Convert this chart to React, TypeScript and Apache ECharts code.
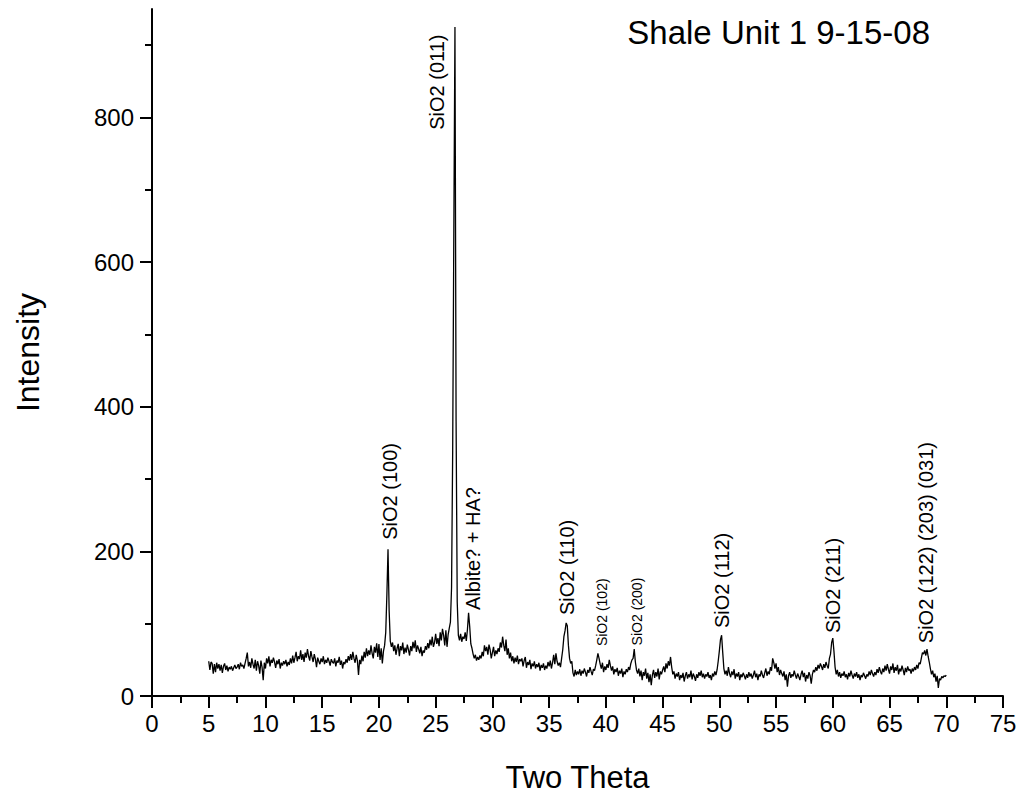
import React, { useEffect, useRef } from "react";
import * as echarts from "echarts";

// Powder diffraction scan, 5.0° to 70.0° two-theta, 0.1° step.
const scanStart = 5.0;
const scanStep = 0.1;

const counts05 = [
  48, 36, 47, 45, 31, 44, 33, 46, 38, 44,
  35, 43, 32, 41, 45, 36, 42, 34, 40, 37,
  41, 35, 39, 43, 38, 40, 44, 37, 46, 41,
  43, 38, 45, 52, 60, 41, 47, 39, 52, 44,
  38, 50, 35, 48, 42, 31, 49, 40, 22, 46,
];
const counts10 = [
  38, 52, 45, 55, 41, 50, 46, 53, 47, 39,
  49, 44, 51, 38, 46, 42, 48, 44, 50, 41,
  47, 43, 52, 45, 56, 46, 53, 61, 48, 55,
  51, 63, 50, 58, 47, 60, 53, 65, 55, 49,
  62, 54, 47, 58, 51, 40, 53, 48, 44, 52,
];
const counts15 = [
  47, 55, 44, 50, 46, 53, 48, 42, 51, 47,
  45, 52, 41, 49, 46, 54, 43, 49, 38, 47,
  44, 51, 46, 55, 49, 58, 50, 61, 52, 46,
  57, 49, 29, 50, 44, 56, 48, 61, 53, 66,
  55, 63, 57, 70, 59, 52, 68, 60, 73, 54,
];
const counts20 = [
  72, 50, 66, 45, 62, 70, 88, 140, 203, 118,
  76, 68, 74, 62, 70, 57, 66, 72, 55, 69,
  63, 74, 58, 67, 60, 71, 64, 56, 69, 62,
  75, 66, 77, 61, 70, 65, 59, 68, 55, 63,
  60, 69, 64, 73, 66, 78, 70, 82, 68, 74,
];
const counts25 = [
  86, 72, 80, 69, 88, 77, 93, 84, 70, 91,
  68, 85, 94, 102, 150, 340, 640, 925, 380, 130,
  84, 77, 86, 75, 82, 79, 88, 76, 92, 115,
  96, 72, 66, 58, 52, 57, 49, 54, 50, 56,
  52, 61, 55, 70, 62, 68, 57, 71, 64, 52,
];
const counts30 = [
  60, 68, 55, 63, 58, 66, 61, 74, 67, 82,
  70, 62, 78, 57, 66, 52, 60, 48, 55, 45,
  53, 47, 56, 44, 51, 48, 52, 41, 49, 54,
  39, 47, 43, 50, 37, 45, 41, 48, 38, 44,
  40, 46, 35, 43, 39, 45, 36, 42, 38, 47,
];
const counts35 = [
  41, 49, 38, 46, 57, 44, 59, 48, 42, 46,
  40, 52, 64, 82, 90, 101, 97, 70, 52, 45,
  48, 32, 27, 36, 29, 34, 30, 37, 28, 35,
  31, 38, 33, 27, 36, 32, 40, 34, 29, 37,
  35, 42, 50, 59, 52, 44, 38, 46, 33, 41,
];
const counts40 = [
  36, 44, 39, 50, 42, 35, 41, 30, 37, 33,
  39, 28, 35, 31, 38, 26, 34, 30, 37, 33,
  40, 36, 45, 50, 52, 65, 47, 36, 31, 38,
  27, 35, 22, 33, 28, 38, 24, 32, 19, 30,
  15, 29, 36, 25, 33, 27, 38, 23, 34, 30,
];
const counts45 = [
  36, 41, 33, 45, 38, 48, 42, 54, 40, 30,
  34, 24, 31, 27, 33, 22, 29, 25, 32, 20,
  28, 33, 24, 30, 26, 35, 23, 31, 27, 21,
  30, 25, 33, 28, 35, 26, 31, 24, 30, 27,
  33, 25, 29, 22, 31, 27, 34, 29, 36, 48,
];
const counts50 = [
  62, 78, 84, 60, 38, 30, 35, 28, 40, 31,
  26, 34, 29, 37, 24, 31, 27, 33, 22, 30,
  26, 32, 28, 23, 30, 25, 33, 27, 31, 24,
  29, 35, 26, 31, 22, 30, 27, 35, 29, 25,
  32, 38, 28, 34, 30, 40, 35, 52, 46, 38,
];
const counts55 = [
  45, 33, 40, 29, 36, 31, 27, 34, 22, 30,
  13, 28, 33, 25, 30, 27, 35, 29, 24, 31,
  27, 22, 30, 35, 26, 32, 20, 29, 24, 33,
  28, 17, 30, 36, 33, 40, 35, 43, 38, 45,
  41, 36, 44, 39, 47, 42, 38, 52, 58, 74,
];
const counts60 = [
  80, 62, 40, 30, 36, 27, 33, 25, 31, 28,
  34, 26, 30, 23, 32, 27, 35, 29, 24, 31,
  27, 33, 25, 30, 22, 29, 26, 32, 28, 24,
  30, 27, 34, 29, 36, 31, 27, 33, 29, 37,
  32, 40, 34, 30, 38, 33, 42, 35, 44, 37,
];
const counts65 = [
  31, 41, 36, 45, 32, 40, 35, 43, 30, 38,
  34, 42, 36, 29, 39, 33, 41, 35, 37, 31,
  38, 34, 40, 36, 43, 38, 46, 44, 52, 60,
  58, 63, 56, 65, 55, 47, 38, 30, 35, 26,
  31, 20, 28, 11, 24, 22, 27, 25, 28, 27,
  29,
];

// Peak assignments: text, and the (two-theta, intensity) point where each label starts.
const peakNames = [
  "SiO2 (100)",
  "SiO2 (011)",
  "Albite? + HA?",
  "SiO2 (110)",
  "SiO2 (102)",
  "SiO2 (200)",
  "SiO2 (112)",
  "SiO2 (211)",
  "SiO2 (122) (203) (031)",
];
const peakLabelTheta = [21.0, 25.1, 28.3, 36.6, 39.7, 42.7, 50.2, 60.0, 68.2];
const peakLabelIntensity = [216, 783, 119, 112, 69, 70, 94, 87, 73];
const minorPeakNames = ["SiO2 (102)", "SiO2 (200)"];

const chartTitle = "Shale Unit 1 9-15-08";
const xAxisName = "Two Theta";
const yAxisName = "Intensity";
const yMajorTicks = [0, 200, 400, 600, 800];
const yMinorTicks = [100, 300, 500, 700, 900];

const FONT = "'Liberation Sans', Arial, Helvetica, sans-serif";

export default function App() {
  const ref = useRef<HTMLDivElement>(null);

  useEffect(() => {
    if (!ref.current) return;
    const chart = echarts.init(ref.current, null, { renderer: "svg" });

    const counts = [
      ...counts05, ...counts10, ...counts15, ...counts20, ...counts25,
      ...counts30, ...counts35, ...counts40, ...counts45, ...counts50,
      ...counts55, ...counts60, ...counts65,
    ];
    const scan = counts.map((c, i) => [
      Math.round((scanStart + i * scanStep) * 10) / 10,
      c,
    ]);

    const labelPoints = peakNames.map((name, i) => {
      const small = minorPeakNames.includes(name);
      return {
        value: [peakLabelTheta[i], peakLabelIntensity[i]],
        name,
        label: { fontSize: small ? 14 : 20 },
      };
    });

    const axisColor = "#000";

    chart.setOption({
      animation: false,
      backgroundColor: "#fff",
      title: {
        text: chartTitle,
        right: 90,
        top: 11,
        textStyle: {
          fontFamily: FONT,
          fontSize: 33,
          fontWeight: "normal",
          color: "#000",
        },
      },
      grid: { left: 152, right: 22, top: 9, bottom: 106 },
      xAxis: {
        type: "value",
        min: 0,
        max: 75,
        interval: 5,
        name: xAxisName,
        nameLocation: "middle",
        nameGap: 66,
        nameTextStyle: { fontFamily: FONT, fontSize: 31, color: "#000" },
        axisLine: { show: true, onZero: false, lineStyle: { color: axisColor, width: 2 } },
        axisTick: { show: true, length: 12, lineStyle: { color: axisColor, width: 2 } },
        minorTick: { show: true, splitNumber: 2, length: 7, lineStyle: { color: axisColor, width: 2 } },
        axisLabel: { fontFamily: FONT, fontSize: 24, color: "#000", margin: 15 },
        splitLine: { show: false },
        minorSplitLine: { show: false },
      },
      yAxis: [
        {
          type: "value",
          min: 0,
          max: 950,
          position: "left",
          name: yAxisName,
          nameLocation: "middle",
          nameGap: 108,
          nameTextStyle: { fontFamily: FONT, fontSize: 32, color: "#000" },
          axisLine: { show: true, onZero: false, lineStyle: { color: axisColor, width: 2 } },
          axisTick: {
            show: true,
            length: 12,
            customValues: yMajorTicks,
            lineStyle: { color: axisColor, width: 2 },
          },
          axisLabel: {
            fontFamily: FONT,
            fontSize: 24,
            color: "#000",
            margin: 18,
            customValues: yMajorTicks,
          },
          splitLine: { show: false },
        },
        {
          type: "value",
          min: 0,
          max: 950,
          position: "left",
          axisLine: { show: false },
          axisTick: {
            show: true,
            length: 7,
            customValues: yMinorTicks,
            lineStyle: { color: axisColor, width: 2 },
          },
          axisLabel: { show: false },
          splitLine: { show: false },
        },
      ],
      series: [
        {
          type: "line",
          data: scan,
          showSymbol: false,
          symbol: "none",
          lineStyle: { color: "#000", width: 1.3 },
          silent: true,
          z: 2,
        },
        {
          type: "scatter",
          data: labelPoints,
          symbolSize: 0,
          silent: true,
          z: 3,
          itemStyle: { opacity: 1, color: "#000" },
          label: {
            show: true,
            position: "inside",
            formatter: (p: any) => p.name,
            rotate: 90,
            align: "left",
            verticalAlign: "middle",
            fontFamily: FONT,
            color: "#000",
            opacity: 1,
          },
        },
      ],
    });

    return () => chart.dispose();
  }, []);

  return (
    <div
      ref={ref}
      style={{ position: "fixed", left: 0, top: 0, width: 1025, height: 802 }}
    />
  );
}
